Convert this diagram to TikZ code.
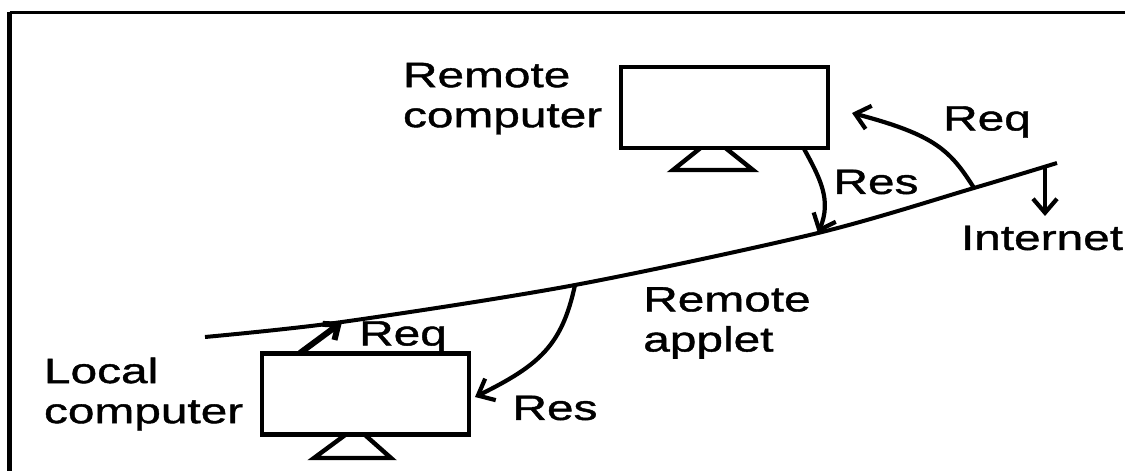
\documentclass[tikz,border=0pt]{standalone}
\usepackage{fontspec}
\setmainfont[FakeStretch=1.36,FakeBold=1.2]{Liberation Sans}
\usetikzlibrary{arrows.meta,positioning}
\tikzset{
    pcbox/.style={rectangle,draw,fill=white,line width=1.15mm,minimum width=5.18cm,minimum height=2.03cm},
    pcstand/.style={line width=1.1mm,line join=miter},
    pclabel/.style={align=left,inner sep=0pt,font=\fontsize{25}{28.5}\selectfont},
    netline/.style={line width=1mm},
    msgline/.style={-{Straight Barb[length=3.5mm,width=6mm]},line width=1.05mm},
    msgthick/.style={-{Straight Barb[length=3mm,width=5mm]},line width=1.5mm},
    frameside/.style={line width=1.2mm},
    frametop/.style={line width=0.7mm}
}
\begin{document}
\begin{tikzpicture}[x=0.025cm,y=-0.025cm]
    \useasboundingbox (0,0) rectangle (1125,471);
    \coordinate (frameleft) at (9.5,471);
    \coordinate (framecorner) at (9.5,12.5);
    \coordinate (frameright) at (1125,12.5);
    \draw[frameside] (frameleft) -- (framecorner);
    \draw[frametop] (framecorner) -- (frameright);
    % the internet line
    \coordinate (netstart) at (205,337);
    \coordinate (netreq) at (342,322);
    \coordinate (netres) at (575,285);
    \coordinate (netmid) at (818,233);
    \coordinate (nethigh) at (974,188);
    \coordinate (netend) at (1057,163);
    \draw[netline] plot[smooth,tension=0.5] coordinates {(netstart) (netreq) (netres) (netmid) (nethigh) (netend)};
    % computers
    \coordinate (remotetip) at (713,138);
    \coordinate (remotebl) at (673,170);
    \coordinate (remotebr) at (753,170);
    \coordinate (localtip) at (356,427);
    \coordinate (localbl) at (314,458);
    \coordinate (localbr) at (391,458);
    \draw[pcstand] (remotetip) -- (remotebr) -- (remotebl) -- cycle;
    \draw[pcstand] (localtip) -- (localbr) -- (localbl) -- cycle;
    \node[pcbox] (remote) at (724.5,107.5) {};
    \node[pcbox] (local) at (365.5,394) {};
    \node[pclabel,left=4mm of remote,yshift=2.2mm] (remotetext) {Remote\\computer};
    \node[pclabel,left=4mm of local] (localtext) {Local\\computer};
    % requests and responses
    \coordinate (localreqstart) at (300,353);
    \coordinate (localresend) at (475,397);
    \coordinate (remoteresstart) at (803,147);
    \coordinate (remotereqend) at (852,113);
    \coordinate (netdownstart) at (1045,168);
    \coordinate (netdownend) at (1045,216);
    \draw[msgthick] (localreqstart) -- (netreq);
    \draw[msgline] (netres) .. controls (562,345) and (540,365) .. (localresend);
    \draw[msgline] (remoteresstart) .. controls (820,178) and (832,200) .. (netmid);
    \draw[msgline] (nethigh) .. controls (950,150) and (935,135) .. (remotereqend);
    \draw[msgline] (netdownstart) -- (netdownend);
    % labels
    \node[pclabel] (localreq) at (403,337) {Req};
    \node[pclabel] (localres) at (555,408) {Res};
    \node[pclabel] (remoteres) at (876,182) {Res};
    \node[pclabel] (remotereq) at (987,122) {Req};
    \node[pclabel] (nettext) at (1042,238) {Internet};
    \node[pclabel,anchor=west] (applet) at (643,323) {Remote\\applet};
\end{tikzpicture}
\end{document}
